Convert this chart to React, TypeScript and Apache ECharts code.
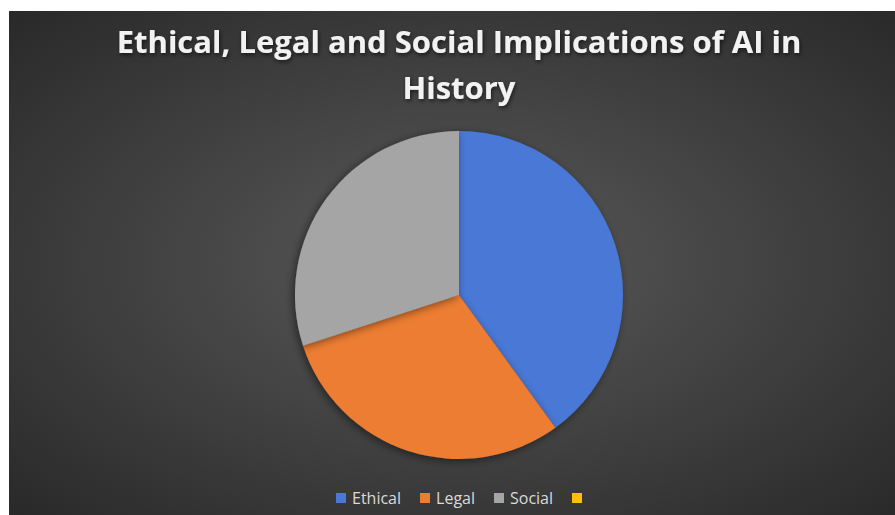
import React, { useEffect, useRef } from "react";
import * as echarts from "echarts";

const titleText = "Ethical, Legal and Social Implications of AI in\nHistory";
const categories = ["Ethical", "Legal", "Social", " "];
const values = [40, 30, 30, 0];
const colors = ["#4a78d6", "#ed7d31", "#a5a5a5", "#ffc000"];

export default function App() {
  const ref = useRef<HTMLDivElement>(null);
  useEffect(() => {
    document.body.style.margin = "0";
    document.body.style.overflow = "hidden";
    const chart = echarts.init(ref.current!, null, { renderer: "svg" });
    chart.setOption({
      animation: false,
      backgroundColor: {
        type: "radial",
        x: 0.5,
        y: 0.5,
        r: 0.75,
        colorStops: [
          { offset: 0, color: "#5a5a5a" },
          { offset: 1, color: "#262626" },
        ],
      },
      title: {
        text: titleText,
        left: "center",
        top: 7,
        padding: 0,
        textStyle: {
          color: "#f2f2f2",
          fontFamily: "Open Sans",
          fontWeight: "bold",
          fontSize: 31,
          lineHeight: 46,
          textShadowColor: "rgba(0,0,0,0.6)",
          textShadowBlur: 4,
          textShadowOffsetX: 1,
          textShadowOffsetY: 2,
        },
      },
      legend: {
        data: categories,
        top: 479,
        left: 327,
        padding: 0,
        itemWidth: 10,
        itemHeight: 10,
        itemGap: 19,
        icon: "rect",
        textStyle: {
          color: "#d9d9d9",
          fontFamily: "Open Sans",
          fontSize: 16,
          lineHeight: 16,
          padding: [0, 0, 0, 1],
        },
      },
      color: colors,
      series: [
        {
          type: "pie",
          center: [450, 284],
          radius: 164,
          startAngle: 90,
          clockwise: true,
          label: { show: false },
          labelLine: { show: false },
          emphasis: { disabled: true },
          itemStyle: {
            borderWidth: 0,
            shadowColor: "rgba(0,0,0,0.5)",
            shadowBlur: 8,
            shadowOffsetX: -2,
            shadowOffsetY: 2,
          },
          data: categories.map((c, i) => ({ name: c, value: values[i] })),
        },
      ],
    });
    return () => chart.dispose();
  }, []);
  return (
    <div style={{ position: "absolute", left: 9, top: 11, width: 886, height: 504, overflow: "hidden" }}>
      <div ref={ref} style={{ width: 900, height: 504 }} />
    </div>
  );
}
